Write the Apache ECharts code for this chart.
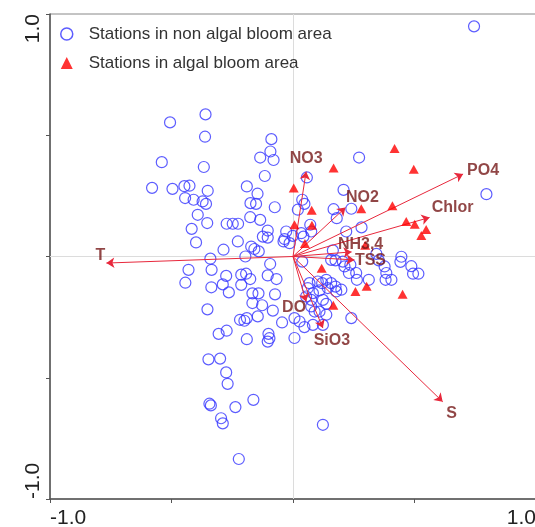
<!DOCTYPE html>
<html><head><meta charset="utf-8">
<script src="https://cdn.jsdelivr.net/npm/echarts@6/dist/echarts.min.js"></script>
<style>html,body{margin:0;padding:0;background:#fff}#c{width:535px;height:527px}</style>
</head><body><div id="c"></div>
<script>
// Stations in non algal bloom area (axis 1, axis 2 scores)
const nonBloomX = [-0.506,-0.360,-0.362,-0.540,-0.367,-0.089,-0.093,-0.135,-0.080,-0.116,
 -0.580,-0.496,-0.447,-0.426,-0.351,-0.190,-0.146,-0.444,-0.409,-0.372,
 -0.358,-0.175,-0.152,-0.075,-0.392,-0.353,-0.417,-0.273,-0.248,-0.226,
 -0.176,-0.135,-0.104,-0.124,-0.104,-0.039,-0.399,-0.227,-0.286,-0.172,
 -0.159,-0.141,-0.196,-0.340,-0.430,-0.335,-0.094,-0.443,-0.275,-0.213,
 -0.193,-0.176,-0.104,-0.068,-0.336,-0.289,-0.264,-0.213,-0.167,-0.142,
 -0.074,-0.352,-0.167,-0.127,-0.083,-0.145,-0.218,-0.200,-0.190,-0.045,
 0.006,0.047,-0.306,-0.273,-0.190,-0.101,-0.097,-0.104,0.006,-0.348,
 -0.300,-0.275,-0.269,-0.344,-0.338,-0.237,-0.163,-0.296,-0.289,0.123,
 -0.223,0.057,0.272,0.208,0.038,0.020,0.047,0.167,0.180,0.240,
 0.219,0.282,0.071,0.075,-0.001,0.043,-0.035,-0.014,0.034,0.038,
 0.164,0.175,0.157,0.205,0.212,0.230,0.260,0.236,0.343,0.353,
 0.446,0.442,0.487,0.384,0.405,0.381,0.494,0.516,0.312,0.263,
 0.068,0.061,0.102,0.120,0.137,0.157,0.175,0.143,0.178,0.199,
 0.082,0.109,0.054,0.075,0.123,0.137,0.075,0.089,0.109,0.137,
 0.027,0.240,0.082,0.123,0.796,0.745,0.377,-0.028];
const nonBloomY = [0.553,0.586,0.494,0.389,0.369,0.484,0.433,0.408,0.398,0.332,
 0.283,0.279,0.290,0.292,0.271,0.289,0.259,0.241,0.234,0.227,
 0.217,0.220,0.217,0.203,0.172,0.138,0.114,0.135,0.135,0.135,
 0.162,0.151,0.107,0.082,0.078,0.062,0.058,0.062,0.028,0.041,
 0.031,0.021,0.000,-0.009,-0.055,-0.055,-0.031,-0.108,-0.080,-0.075,
 -0.071,-0.093,-0.078,-0.093,-0.127,-0.115,-0.148,-0.117,-0.152,-0.152,
 -0.156,-0.218,-0.192,-0.201,-0.223,-0.247,-0.261,-0.265,-0.254,-0.272,
 -0.254,-0.291,-0.319,-0.306,-0.341,-0.319,-0.337,-0.351,-0.336,-0.424,
 -0.421,-0.478,-0.525,-0.607,-0.614,-0.621,-0.591,-0.667,-0.688,-0.694,
 -0.835,0.326,0.408,0.275,0.234,0.193,0.217,0.195,0.158,0.197,
 0.103,0.120,0.131,0.103,0.085,0.082,0.072,0.055,0.096,-0.021,
 0.025,-0.016,-0.014,-0.021,-0.041,-0.068,-0.068,-0.034,0.011,-0.016,
 -0.001,-0.022,-0.040,-0.068,-0.096,-0.096,-0.071,-0.071,-0.096,-0.096,
 -0.110,-0.130,-0.103,-0.110,-0.096,-0.110,-0.124,-0.130,-0.144,-0.137,
 -0.151,-0.140,-0.165,-0.179,-0.179,-0.195,-0.206,-0.227,-0.227,-0.240,
 -0.268,-0.254,-0.282,-0.282,0.257,0.949,-0.041,0.103];

// Stations in algal bloom area
const bloomX = [0.418,0.167,0.497,0.003,0.077,0.281,0.409,0.006,0.078,0.466,
 0.501,0.548,0.528,0.049,0.297,0.118,0.257,0.303,0.451,0.166];
const bloomY = [0.445,0.365,0.360,0.282,0.191,0.197,0.209,0.131,0.129,0.144,
 0.133,0.111,0.087,0.054,0.046,-0.048,-0.144,-0.123,-0.156,-0.201];

// Environmental variable vectors
const vectorNames = ['T','NO3','NO2','PO4','Chlor','NH3,4','TSS','S','SiO3','DO'];
const vectorX = [-0.768,0.054,0.216,0.700,0.562,0.241,0.253,0.616,0.123,0.054];
const vectorY = [-0.027,0.350,0.202,0.340,0.161,0.019,-0.014,-0.599,-0.295,-0.186];

const axisTickLabels = {'-1':'-1.0','1':'1.0'};
const seriesNames = ['Stations in non algal bloom area','Stations in algal bloom area'];

// label placement (pixels, relative to arrow tip)
const labelOffsets = {T:[-6,-7], NO3:[0,-13], NO2:[17,-10], PO4:[20,-3], Chlor:[23,-10],
  'NH3,4':[9,-7], TSS:[16,1], S:[9,12], SiO3:[9,13], DO:[-12,6]};

const FONT = "'Liberation Sans', Arial, sans-serif";
const BLUE = '#3535ff', RED = '#ff0000', ARROW = '#e8283c', VLAB = '#761818';

const chart = echarts.init(document.getElementById('c'), null, {renderer:'canvas'});
const axisCommon = {
  type:'value', min:-1, max:1, interval:0.5,
  axisLine:{show:true, onZero:false, lineStyle:{color:'#555', width:1.5}},
  axisTick:{show:true, length:4, lineStyle:{color:'#555'}},
  splitLine:{show:false},
};
chart.setOption({
  animation:false,
  backgroundColor:'#fff',
  grid:{left:50, width:486, top:14, height:485, show:true, borderColor:'#888', borderWidth:1,
    containLabel:false, outerBoundsMode:'none'},
  legend:{
    orient:'vertical', left:60, top:24, padding:0, itemGap:9, itemWidth:12, itemHeight:12,
    textStyle:{fontSize:17, color:'#333', fontFamily:FONT, padding:[0,0,0,11], lineHeight:20},
    data:[
      {name:seriesNames[0], icon:'circle', itemStyle:{color:'rgba(0,0,0,0)', borderColor:BLUE, borderWidth:1.5}},
      {name:seriesNames[1], icon:'triangle', itemStyle:{color:RED}}
    ]
  },
  xAxis: Object.assign({}, axisCommon, {
    axisLabel:{fontSize:21, color:'#222', fontFamily:FONT, margin:9,
      formatter:v=>axisTickLabels[String(v)]||'', alignMinLabel:'left', alignMaxLabel:'right'}
  }),
  yAxis: Object.assign({}, axisCommon, {
    axisLabel:{fontSize:21, color:'#222', fontFamily:FONT, margin:6, rotate:90,
      formatter:v=>axisTickLabels[String(v)]||'', alignMinLabel:'left', alignMaxLabel:'right'}
  }),
  series:[
    {
      name:seriesNames[0], type:'scatter', symbol:'circle', symbolSize:11, z:2,
      itemStyle:{color:'rgba(0,0,0,0)', borderColor:BLUE, borderWidth:1.2},
      data: nonBloomX.map((x,i)=>[x, nonBloomY[i]]),
      markLine:{silent:true, symbol:'none', label:{show:false}, z:1,
        lineStyle:{color:'#dcdcdc', type:'solid', width:1},
        data:[{xAxis:0},{yAxis:0}]}
    },
    {
      name:'vectors', type:'lines', coordinateSystem:'cartesian2d', z:3, silent:true,
      symbol:['none','arrow'], symbolSize:8,
      lineStyle:{color:ARROW, width:1, opacity:1},
      data: vectorNames.map((n,i)=>({coords:[[0,0],[vectorX[i], vectorY[i]]]}))
    },
    {
      name:seriesNames[1], type:'scatter', symbol:'triangle', symbolSize:[10,9], z:4,
      itemStyle:{color:RED},
      data: bloomX.map((x,i)=>[x, bloomY[i]])
    },
    {
      name:'vectorLabels', type:'scatter', symbolSize:1, z:5, silent:true,
      itemStyle:{color:'rgba(0,0,0,0)'},
      label:{show:true, position:'inside', formatter:'{b}', color:VLAB, fontWeight:'bold',
        fontSize:16, fontFamily:FONT},
      data: vectorNames.map((n,i)=>({name:n, value:[vectorX[i], vectorY[i]], label:{offset:labelOffsets[n]}}))
    }
  ]
});
</script></body></html>
